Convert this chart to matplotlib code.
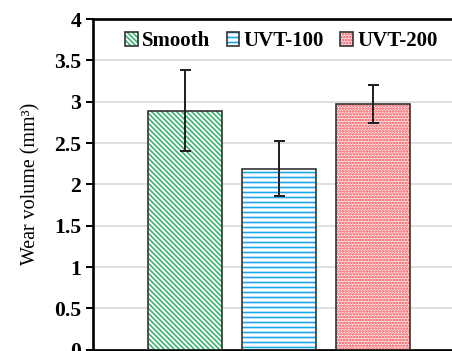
import matplotlib
matplotlib.use("Agg")
import matplotlib.pyplot as plt
from matplotlib.patches import Patch

# Volumen de desgaste por tipo de superficie
superficies = ["Smooth", "UVT-100", "UVT-200"]
volumen = [2.89, 2.19, 2.97]
error = [0.49, 0.33, 0.23]

colores = ["#3cb371", "#1ea7e8", "#f04850"]
fondos = ["white", "white", "#ffe4e4"]
tramas = ["\\" * 8, "----", "." * 7]

plt.rcParams["font.family"] = ["Liberation Serif", "DejaVu Serif"]
plt.rcParams["hatch.linewidth"] = 1.0

fig = plt.figure(figsize=(452 / 120, 351 / 120), dpi=120)
ax = fig.add_axes([93 / 452, 1.3 / 351, 1.05 - 93 / 452, (349.7 - 19) / 351])

x = list(range(len(superficies)))
ancho = 74 / 94

# Relleno tramado y contorno negro por separado
for i in x:
    ax.bar(i, volumen[i], width=ancho, color=fondos[i], edgecolor=colores[i],
           hatch=tramas[i], linewidth=0, zorder=2)
    ax.bar(i, volumen[i], width=ancho, fill=False, edgecolor="#333333",
           linewidth=1.0, zorder=3)

ax.errorbar(x, volumen, yerr=error, fmt="none", ecolor="#222222",
            elinewidth=1.2, capsize=3.3, capthick=1.2, zorder=4)

ax.set_xlim(-92 / 94, (1.05 * 452 - 185) / 94)
ax.set_ylim(0, 4)
ax.set_yticks([0, 0.5, 1, 1.5, 2, 2.5, 3, 3.5, 4])
ax.set_yticklabels(["0", "0.5", "1", "1.5", "2", "2.5", "3", "3.5", "4"],
                   fontsize=13, fontweight="bold")
ax.set_xticks([])
ax.tick_params(axis="y", length=4, width=1.2, direction="out", pad=3)
ax.grid(axis="y", color="#d9d9d9", linewidth=1.0, zorder=0)
ax.set_axisbelow(True)

for lado in ["left", "top", "bottom"]:
    ax.spines[lado].set_linewidth(1.6)
    ax.spines[lado].set_color("black")
ax.spines["right"].set_visible(False)

ax.set_ylabel("Wear volume (mm³)", fontsize=12, labelpad=8)

# Leyenda con muestras tramadas superpuestas al contorno
handles = []
for i in x:
    relleno = Patch(facecolor=fondos[i], edgecolor=colores[i], hatch=tramas[i], linewidth=0)
    borde = Patch(fill=False, edgecolor="#333333", linewidth=1.0)
    handles.append((relleno, borde))

ax.legend(handles, superficies, loc="upper left", bbox_to_anchor=(0.035, 1.02),
          ncol=3, frameon=False, handlelength=0.6, handleheight=0.7,
          handletextpad=0.2, columnspacing=0.8,
          prop={"size": 12.5, "weight": "bold"})

fig.savefig("out.png", dpi=120)
